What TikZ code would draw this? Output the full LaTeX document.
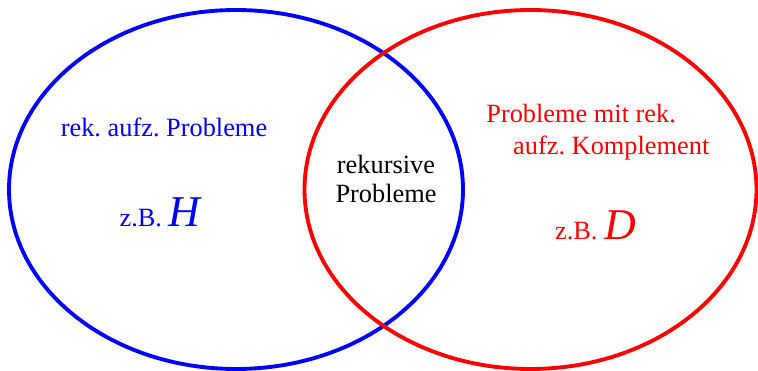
\documentclass[tikz,border=0pt]{standalone}
\usepackage{fontspec}
\setmainfont{Liberation Serif}
\usepackage{unicode-math}
\setmathfont{Latin Modern Math}
\setmathfont[range=it]{Liberation Serif Italic}
\newcommand{\bigsym}[1]{{\fontsize{25}{27}\selectfont$#1$}}
\frenchspacing

\begin{document}
\begin{tikzpicture}[
		x={(0.02cm,0cm)},
		y={(0cm,-0.02cm)},
		label/.style={font=\fontsize{15}{17}\selectfont,inner sep=0pt},
		set/.style={line width=2.2pt},
	]
		\useasboundingbox (0,0) rectangle (758,371);
		
		\draw[set,blue] (236,189.5) ellipse [x radius=227, y radius=179.5];
		\draw[set,red] (530.5,189.5) ellipse [x radius=226, y radius=179.5];
		
		\node[label,blue,anchor=base] (rekaufz) at (164,137) {rek. aufz. Probleme};
		\node[label,blue,anchor=base] (bspH) at (160,227) {z.B. \bigsym{H}};
		\node[label,align=center] (rek) at (386,179) {rekursive\\Probleme};
		\node[label,red,align=left,anchor=west,font=\fontsize{15}{18}\selectfont] (komp) at (486,132) {Probleme mit rek.\\\hspace{15.3pt}aufz. Komplement};
		\node[label,red,anchor=base] (bspD) at (595.5,240) {z.B. \bigsym{D}};
	\end{tikzpicture}
\end{document}
